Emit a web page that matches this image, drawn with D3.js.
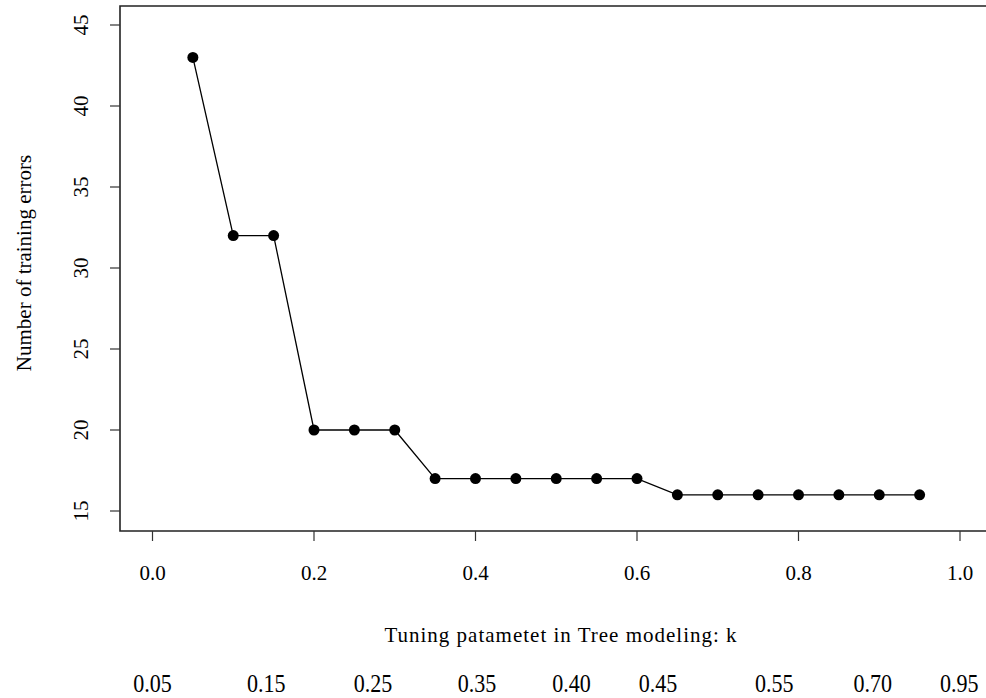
<!DOCTYPE html>
<html>
<head>
<meta charset="utf-8">
<script src="https://cdn.jsdelivr.net/npm/d3@7"></script>
<style>
  body { margin: 0; background: #fff; }
  svg { display: block; font-family: "Liberation Serif", "DejaVu Serif", serif; }
</style>
</head>
<body>
<svg width="986" height="698"></svg>
<script>
var kValues = [0.05, 0.10, 0.15, 0.20, 0.25, 0.30, 0.35, 0.40, 0.45, 0.50,
  0.55, 0.60, 0.65, 0.70, 0.75, 0.80, 0.85, 0.90, 0.95];
var trainErrors = [43, 32, 32, 20, 20, 20, 17, 17, 17, 17,
  17, 17, 16, 16, 16, 16, 16, 16, 16];
var xTicks = [0, 0.2, 0.4, 0.6, 0.8, 1.0];
var yTicks = [15, 20, 25, 30, 35, 40, 45];
var bottomLabels = ["0.05", "0.15", "0.25", "0.35", "0.40", "0.45", "0.55", "0.70", "0.95"];
var bottomLabelAt = [0, 0.141, 0.273, 0.402, 0.519, 0.626, 0.770, 0.892, 0.999];

var svg = d3.select("svg");

var x = d3.scaleLinear().domain([0, 1]).range([152.5, 960]);
var y = d3.scaleLinear().domain([15, 45]).range([511, 25]);

// frame (right side falls outside the picture)
svg.append("path")
  .attr("d", "M 1000 6 L 120 6 L 120 531 L 1000 531")
  .attr("fill", "none")
  .attr("stroke", "#222")
  .attr("stroke-width", 1.6);

// y axis
var yAxis = svg.append("g").attr("transform", "translate(120,0)");
yAxis.selectAll("line")
  .data(yTicks)
  .enter()
  .append("line")
  .attr("x1", -10).attr("x2", 0)
  .attr("y1", function (d) { return y(d); })
  .attr("y2", function (d) { return y(d); })
  .attr("stroke", "#333")
  .attr("stroke-width", 1.2);
yAxis.selectAll("text")
  .data(yTicks)
  .enter()
  .append("text")
  .attr("transform", function (d) { return "translate(-32," + y(d) + ") rotate(-90)"; })
  .attr("text-anchor", "middle")
  .style("font-size", "21px")
  .text(function (d) { return d; });

// x axis
var xAxis = svg.append("g").attr("transform", "translate(0,531)");
xAxis.selectAll("line")
  .data(xTicks)
  .enter()
  .append("line")
  .attr("x1", function (d) { return x(d); })
  .attr("x2", function (d) { return x(d); })
  .attr("y1", 0).attr("y2", 10)
  .attr("stroke", "#333")
  .attr("stroke-width", 1.2);
xAxis.selectAll("text")
  .data(xTicks)
  .enter()
  .append("text")
  .attr("x", function (d) { return x(d); })
  .attr("y", 49)
  .attr("text-anchor", "middle")
  .style("font-size", "21px")
  .text(function (d) { return d3.format(".1f")(d); });

// axis titles
svg.append("text")
  .attr("x", 561)
  .attr("y", 642)
  .attr("text-anchor", "middle")
  .style("font-size", "21px")
  .style("letter-spacing", "1px")
  .text("Tuning patametet in Tree modeling: k");

svg.append("text")
  .attr("transform", "translate(31,263) rotate(-90)")
  .attr("text-anchor", "middle")
  .style("font-size", "21px")
  .text("Number of training errors");

// second row of labels under the title
svg.append("g").selectAll("text")
  .data(bottomLabels)
  .enter()
  .append("text")
  .attr("transform", function (d, i) {
    return "translate(" + x(bottomLabelAt[i]) + ",692) scale(1.05,1.2)";
  })
  .attr("text-anchor", "middle")
  .style("font-size", "21px")
  .text(function (d) { return d; });

// series
var points = kValues.map(function (k, i) { return { k: k, e: trainErrors[i] }; });

svg.append("path")
  .datum(points)
  .attr("fill", "none")
  .attr("stroke", "#000")
  .attr("stroke-width", 1.3)
  .attr("d", d3.line()
    .x(function (d) { return x(d.k); })
    .y(function (d) { return y(d.e); }));

svg.selectAll("circle.pt")
  .data(points)
  .enter()
  .append("circle")
  .attr("class", "pt")
  .attr("cx", function (d) { return x(d.k); })
  .attr("cy", function (d) { return y(d.e); })
  .attr("r", 5.5)
  .attr("fill", "#000");
</script>
</body>
</html>
